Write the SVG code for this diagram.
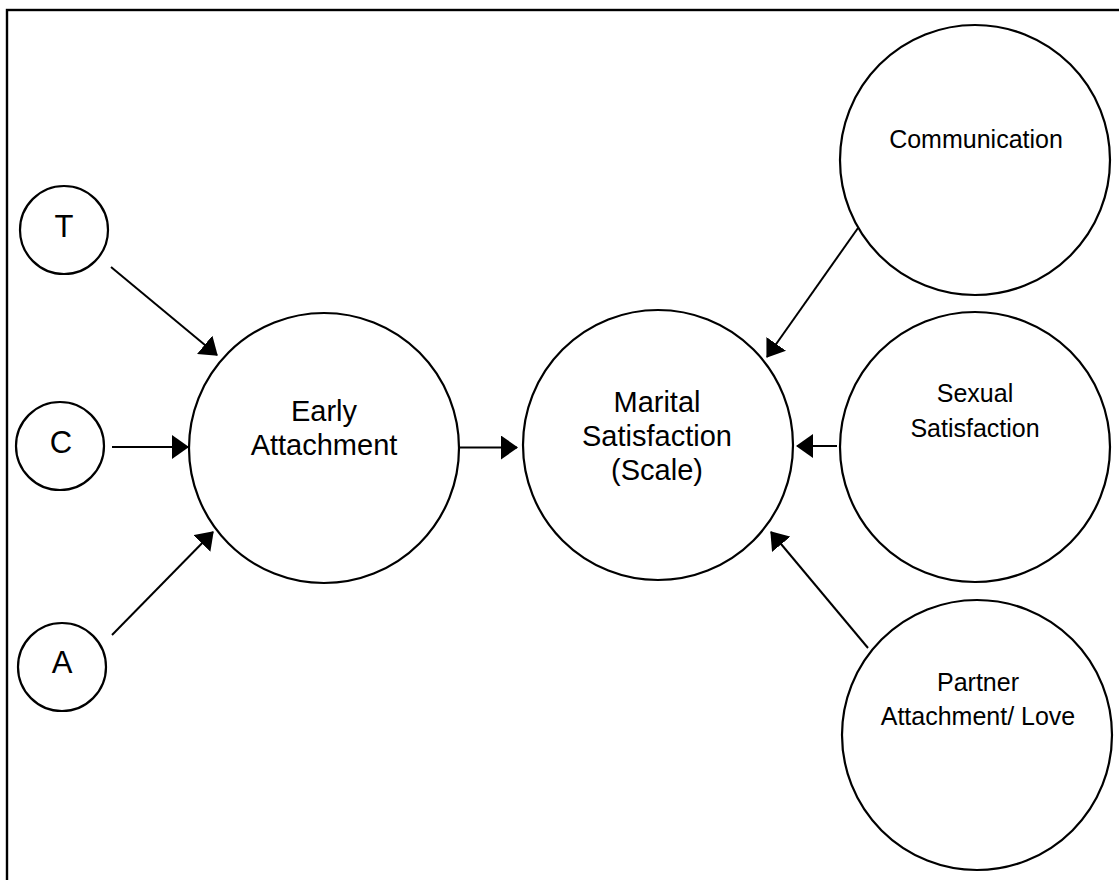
<svg xmlns="http://www.w3.org/2000/svg" width="1119" height="880" viewBox="0 0 1119 880">
<style>
.node{fill:#fff;stroke:#000;stroke-width:2.2}
.lbl{font-family:"Liberation Sans",Arial,sans-serif;fill:#000;text-anchor:middle}
.big{font-size:31px}
.mid{font-size:29px}
.sm{font-size:25px}
.edge{stroke:#000;stroke-width:2;fill:none;marker-end:url(#ah)}
</style>
<defs>
<marker id="ah" markerUnits="userSpaceOnUse" markerWidth="17" markerHeight="24" viewBox="0 0 17 24" refX="16" refY="12" orient="auto">
<path d="M0,0 L17,12 L0,24 z" fill="#000"/>
</marker>
</defs>
<rect x="0" y="0" width="1119" height="880" fill="#fff"/>
<rect id="frame" x="7" y="10" width="1140" height="900" fill="none" stroke="#000" stroke-width="2.4"/>
<g id="connectors">
<line class="edge" x1="111" y1="267" x2="217" y2="355"/>
<line class="edge" x1="112" y1="447" x2="188" y2="447"/>
<line class="edge" x1="112" y1="635" x2="213" y2="532"/>
<line class="edge" x1="459" y1="447.5" x2="517" y2="447.5"/>
<line class="edge" x1="858" y1="228" x2="767" y2="357"/>
<line class="edge" x1="837" y1="446" x2="797" y2="446"/>
<line class="edge" x1="868" y1="648" x2="771" y2="532"/>
</g>
<g id="node-T">
<circle class="node" cx="64" cy="230" r="44"/>
<text class="lbl big" x="64" y="237">T</text>
</g>
<g id="node-C">
<circle class="node" cx="60" cy="446" r="44"/>
<text class="lbl big" x="61" y="453">C</text>
</g>
<g id="node-A">
<circle class="node" cx="62" cy="667" r="44"/>
<text class="lbl big" x="62" y="673">A</text>
</g>
<g id="node-early-attachment">
<circle class="node" cx="324" cy="448" r="135"/>
<text class="lbl mid" x="324" y="421">Early</text>
<text class="lbl mid" x="324" y="455">Attachment</text>
</g>
<g id="node-marital-satisfaction">
<circle class="node" cx="658" cy="445" r="135"/>
<text class="lbl mid" x="657" y="412">Marital</text>
<text class="lbl mid" x="657" y="446">Satisfaction</text>
<text class="lbl mid" x="657" y="480">(Scale)</text>
</g>
<g id="node-communication">
<circle class="node" cx="975" cy="160" r="135"/>
<text class="lbl sm" x="976" y="148">Communication</text>
</g>
<g id="node-sexual-satisfaction">
<circle class="node" cx="975" cy="447" r="135"/>
<text class="lbl sm" x="975" y="402">Sexual</text>
<text class="lbl sm" x="975" y="437">Satisfaction</text>
</g>
<g id="node-partner-attachment">
<circle class="node" cx="977" cy="735" r="135"/>
<text class="lbl sm" x="978" y="691">Partner</text>
<text class="lbl sm" x="978" y="725">Attachment/ Love</text>
</g>
</svg>
